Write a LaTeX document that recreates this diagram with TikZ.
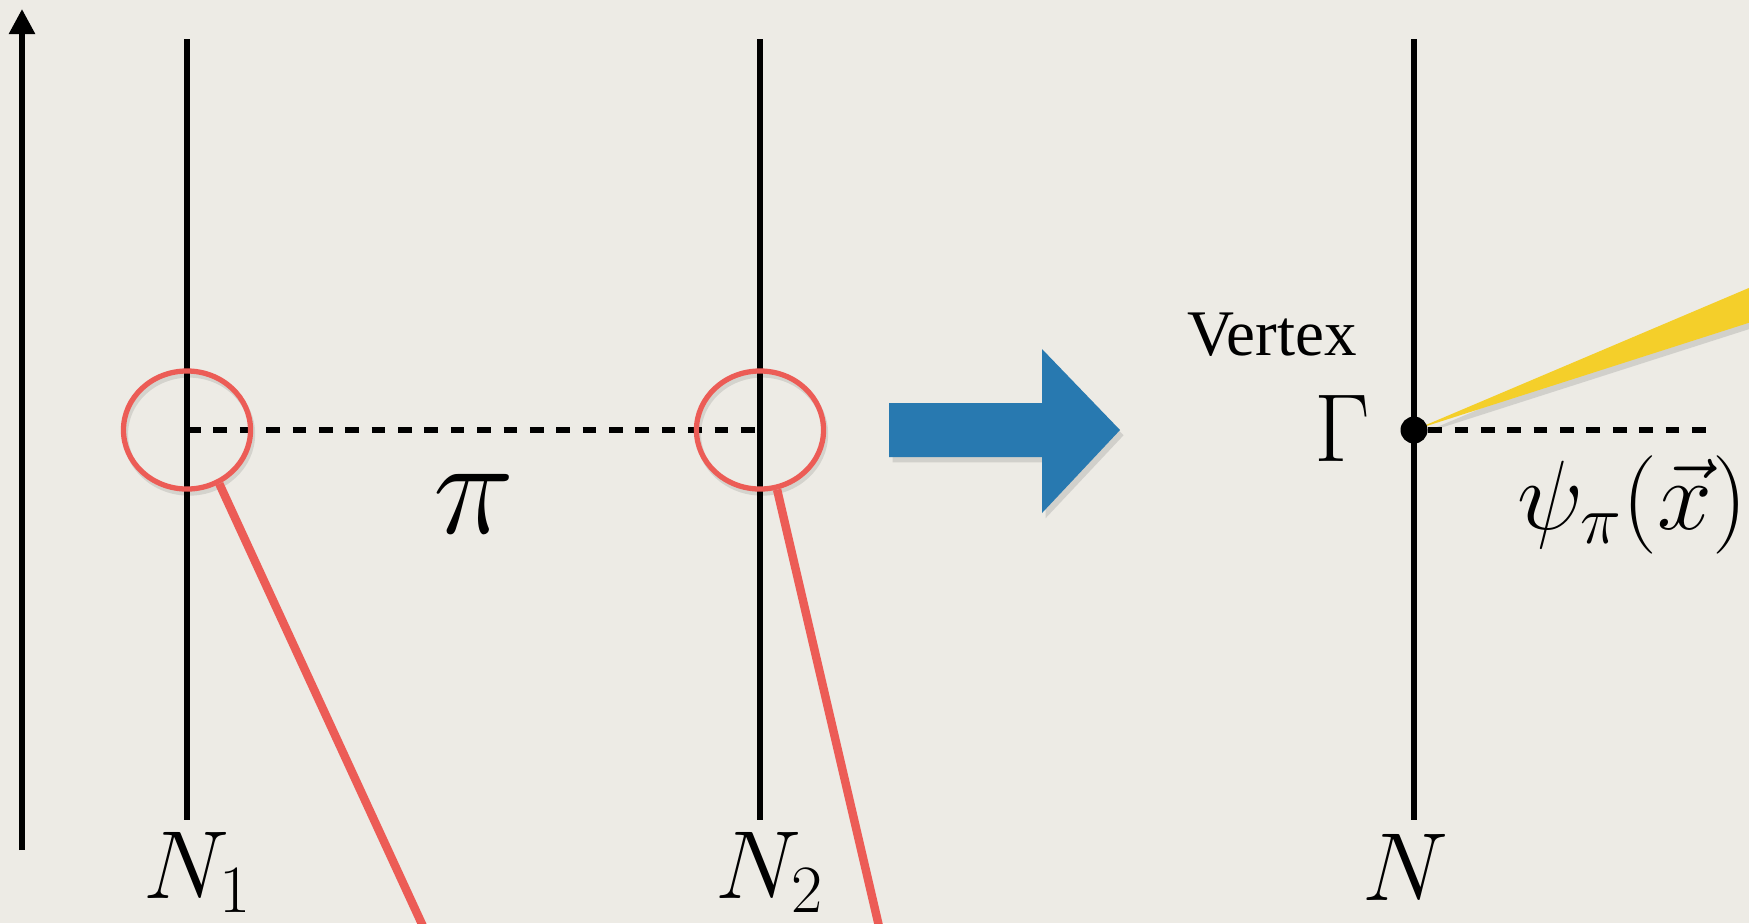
\documentclass[tikz,border=0pt]{standalone}
\usepackage{fix-cm}
\usepackage{fontspec}
\newfontfamily\vtxfont{Liberation Serif}
\usetikzlibrary{arrows.meta, shapes.geometric, shadows}
\definecolor{paper}{RGB}{237,235,229}
\definecolor{ringred}{RGB}{236,92,86}
\definecolor{flowblue}{RGB}{40,121,176}
\definecolor{wedgeyellow}{RGB}{244,207,42}
\tikzset{
  world/.style={line width=1.6pt},
  pionline/.style={line width=1.5pt, dash pattern=on 3.9pt off 3.6pt},
  ring/.style={draw=ringred, line width=1.5pt, ellipse, minimum width=1.27cm, minimum height=1.18cm, inner sep=0pt},
  pencil/.style={draw=ringred, line width=2.4pt},
  lbl/.style={inner sep=0pt, anchor=base, font=\fontsize{27.5}{30}\selectfont},
  soft/.style={drop shadow={opacity=0.25, shadow xshift=1pt, shadow yshift=-1.5pt}},
}

\begin{document}
\begin{tikzpicture}[x=0.01cm, y=-0.01cm]
    \fill[paper] (0,0) rectangle (1749,923);
    \useasboundingbox (0,0) rectangle (1749,923);
    % time axis
    \coordinate (tbot) at (22,850);
    \coordinate (ttop) at (22,9);
    \draw[line width=1.6pt, -{Triangle[length=0.25cm, width=0.25cm]}] (tbot) -- (ttop);
    % nucleon world lines
    \foreach \x/\n in {187/n1, 760/n2, 1414/n3} {
      \coordinate (\n top) at (\x,39);
      \coordinate (\n bot) at (\x,820);
      \draw[world] (\n top) -- (\n bot);
    }
    \node[lbl] (lab1) at (198,898) {$N_1$};
    \node[lbl] (lab2) at (770,898) {$N_2$};
    \node[lbl] (lab3) at (1405,900) {$N$};
    % pion exchange
    \coordinate (v1) at (187,430);
    \coordinate (v2) at (760,430);
    \draw[pionline] (v1) -- (v2);
    \node[lbl, font=\fontsize{39}{42}\selectfont] (pi) at (474,533) {$\pi$};
    \node[ring, draw=black, opacity=0.1] at (189,434) {};
    \node[ring, draw=black, opacity=0.1] at (762,434) {};
    \node[ring] (ring1) at (v1) {};
    \node[ring] (ring2) at (v2) {};
    \coordinate (p1) at (427,935);
    \coordinate (p2) at (881,935);
    \draw[pencil] (ring1.-59) -- (p1);
    \draw[pencil] (ring2.-74) -- (p2);
    % big arrow
    \fill[flowblue, soft] (889,403) -- (1042,403) -- (1042,349) -- (1120,430)
      -- (1042,513) -- (1042,457) -- (889,457) -- cycle;
    % effective vertex
    \fill[wedgeyellow, soft] (1414,430) -- (1770,279) -- (1770,316) -- cycle;
    \node[circle, fill, minimum size=0.27cm, inner sep=0pt] (gam) at (1414,430) {};
    \coordinate (pend) at (1718,430);
    \draw[pionline] (gam) -- (pend);
    \node[lbl] (gamlab) at (1342,461) {$\Gamma$};
    \node[lbl, font=\fontsize{18.5}{21}\vtxfont] (vtx) at (1272,355) {Vertex};
    \node[lbl, anchor=base west, font=\fontsize{28}{31}\selectfont] (psi) at (1517,529) {$\psi_\pi(\vec{x})$};
\end{tikzpicture}
\end{document}
